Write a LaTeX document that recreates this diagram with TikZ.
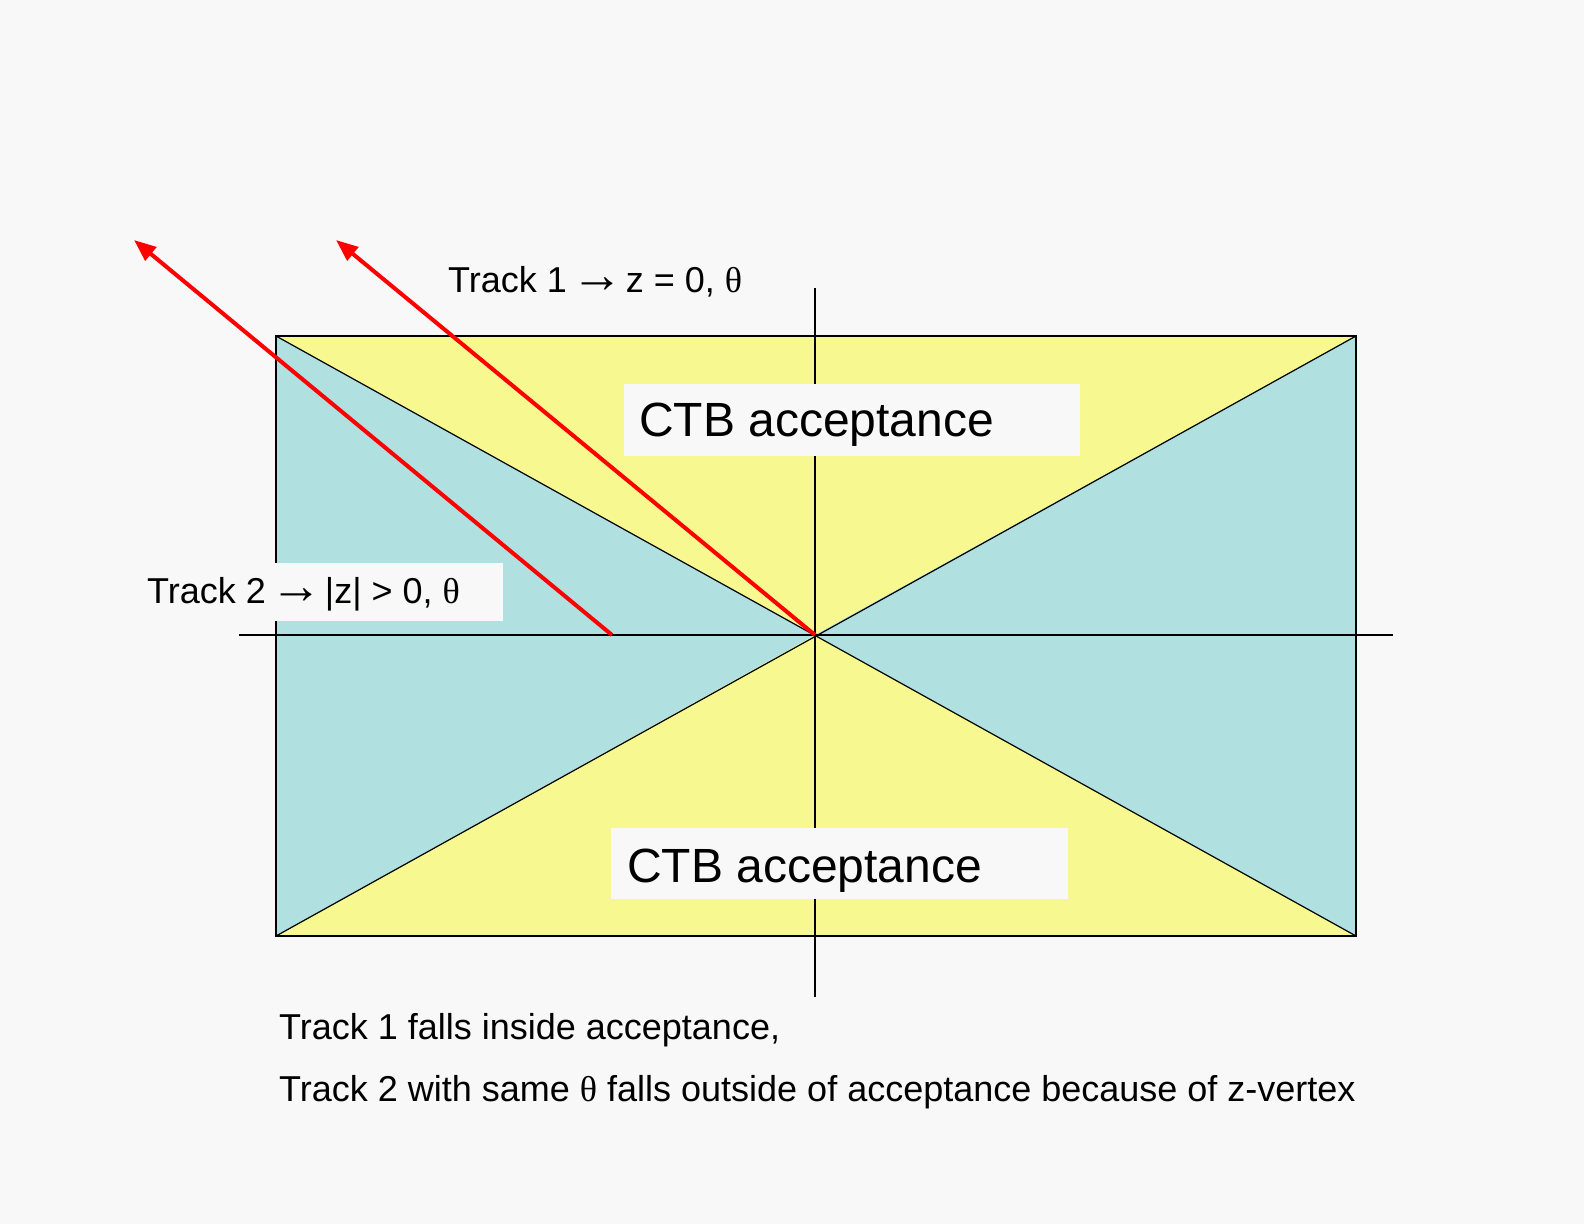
\documentclass[tikz,border=0pt]{standalone}
\usepackage{fontspec}
\setmainfont{Liberation Sans}
\newfontfamily\symfont{Liberation Serif}
\usetikzlibrary{arrows.meta}
\definecolor{bgc}{HTML}{F8F8F8}
\definecolor{yel}{HTML}{F8F890}
\definecolor{cya}{HTML}{B0E0E0}
\definecolor{trk}{HTML}{FF0000}
\newcommand{\rarr}{\kern-5pt{\symfont\fontsize{52}{52}\selectfont →}\kern-8pt}
\begin{document}
\begin{tikzpicture}[x=1pt,y=-1pt,
  thinline/.style={black,line width=1.2pt},
  track/.style={trk,line width=4pt,-{Triangle[length=22pt,width=17pt]}},
  labelbox/.style={fill=bgc,draw=none,inner sep=0pt,anchor=north west},
  lbl/.style={inner sep=0pt,anchor=base west,font=\fontsize{36}{42}\selectfont},
  big/.style={inner sep=0pt,anchor=base west,font=\fontsize{48}{55}\selectfont}]
\useasboundingbox[fill=bgc] (0,0) rectangle (1584,1224);
\coordinate (tl) at (276,336);
\coordinate (tr) at (1356,336);
\coordinate (bl) at (276,936);
\coordinate (br) at (1356,936);
\coordinate (c) at (815,635);
\coordinate (axl) at (239,635);
\coordinate (axr) at (1393,635);
\coordinate (axt) at (815,288);
\coordinate (axb) at (815,997);
% fills
\fill[yel] (tl) -- (tr) -- (c) -- cycle;
\fill[yel] (bl) -- (br) -- (c) -- cycle;
\fill[cya] (tl) -- (bl) -- (c) -- cycle;
\fill[cya] (tr) -- (br) -- (c) -- cycle;
\draw[thinline] (tl) rectangle (br);
\draw[thinline] (tl) -- (br);
\draw[thinline] (tr) -- (bl);
\draw[thinline] (axl) -- (axr);
\draw[thinline] (axt) -- (axb);
% label boxes
\node[labelbox,minimum width=456pt,minimum height=72pt] (topbox) at (624,384) {};
\node[labelbox,minimum width=457pt,minimum height=71pt] (botbox) at (611,828) {};
\node[labelbox,minimum width=363pt,minimum height=58pt] (t2box) at (140,563) {};
\node[big] (ctbtop) at (639,436) {CTB acceptance};
\node[big] (ctbbot) at (627,882) {CTB acceptance};
\node[lbl] (t1lbl) at (448,292) {Track 1 \rarr{} z = 0, {\symfont θ}};
\node[lbl] (t2lbl) at (147,603) {Track 2 \rarr{} |z| > 0, {\symfont θ}};
\node[lbl] (note1) at (279,1039) {Track 1 falls inside acceptance,};
\node[lbl] (note2) at (279,1101) {Track 2 with same {\symfont θ} falls outside of acceptance because of z-vertex};
% tracks
\coordinate (t1start) at (815,635);
\coordinate (t1tip) at (336,240);
\coordinate (t2start) at (612,635);
\coordinate (t2tip) at (134,240);
\draw[track] (t1start) -- (t1tip);
\draw[track] (t2start) -- (t2tip);
\end{tikzpicture}
\end{document}
